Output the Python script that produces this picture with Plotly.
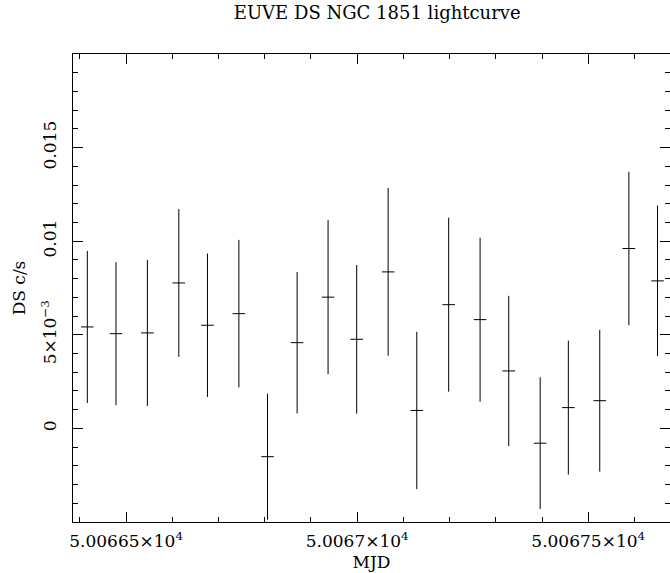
import plotly.graph_objects as go

# EUVE DS lightcurve of NGC 1851
mjd = [50066.416, 50066.478, 50066.546, 50066.614, 50066.676,
       50066.744, 50066.806, 50066.870, 50066.937, 50066.999,
       50067.067, 50067.129, 50067.198, 50067.266, 50067.328,
       50067.396, 50067.457, 50067.525, 50067.588, 50067.650]
rate = [0.00542, 0.00506, 0.00510, 0.00777, 0.00551,
        0.00613, -0.00151, 0.00458, 0.00701, 0.00476,
        0.00836, 0.00096, 0.00661, 0.00581, 0.00307,
        -0.00079, 0.00111, 0.00148, 0.00961, 0.00788]
rate_err = [0.00406, 0.00382, 0.00390, 0.00395, 0.00383,
            0.00394, 0.00337, 0.00378, 0.00412, 0.00397,
            0.00448, 0.00420, 0.00465, 0.00438, 0.00401,
            0.00352, 0.00358, 0.00379, 0.00410, 0.00402]

x_ticks = [50066.5, 50067.0, 50067.5]
x_labels = ["5.00665×10<sup>4</sup>", "5.0067×10<sup>4</sup>", "5.00675×10<sup>4</sup>"]
y_ticks = [0, 0.005, 0.01, 0.015]
y_labels = ["0", "5×10<sup>−3</sup>", "0.01", "0.015"]

font = "DejaVu Serif"

fig = go.Figure()
fig.add_trace(go.Scatter(
    x=mjd, y=rate, mode="markers",
    marker=dict(symbol="line-ew", size=9, line=dict(width=1, color="black")),
    error_y=dict(type="data", array=rate_err, width=0, thickness=1, color="black"),
    showlegend=False, hoverinfo="skip",
))

fig.update_layout(
    width=670, height=573,
    margin=dict(l=73, r=0, t=54, b=51),
    plot_bgcolor="white", paper_bgcolor="white",
    font=dict(family=font, size=17, color="black"),
    title=dict(text="EUVE DS NGC 1851 lightcurve", x=0.563, xanchor="center",
               y=0.978, yanchor="middle", font=dict(family=font, size=18)),
)
fig.update_xaxes(
    range=[50066.385, 50067.677], showgrid=False, zeroline=False, automargin=False,
    showline=True, linecolor="black", linewidth=1, mirror="ticks",
    ticks="inside", ticklen=10, tickcolor="black",
    tickvals=x_ticks, ticktext=x_labels, ticklabelstandoff=4,
    minor=dict(dtick=0.1, tick0=50066.5, ticks="inside", ticklen=5, tickcolor="black"),
    title=dict(text="MJD", standoff=5, font=dict(size=17)),
)
fig.update_yaxes(
    range=[-0.005, 0.02], showgrid=False, zeroline=False, automargin=False,
    showline=True, linecolor="black", linewidth=1, mirror="ticks",
    ticks="inside", ticklen=10, tickcolor="black",
    tickvals=y_ticks, ticktext=y_labels, tickangle=-90, ticklabelstandoff=9,
    minor=dict(dtick=0.001, tick0=0, ticks="inside", ticklen=5, tickcolor="black"),
    title=dict(text="DS c/s", standoff=8, font=dict(size=17)),
)

# drop the page's default body margin so the figure sits at the window corner
fig.write_html("out.html", config={"displayModeBar": False},
               post_script="document.body.style.margin='0';")
